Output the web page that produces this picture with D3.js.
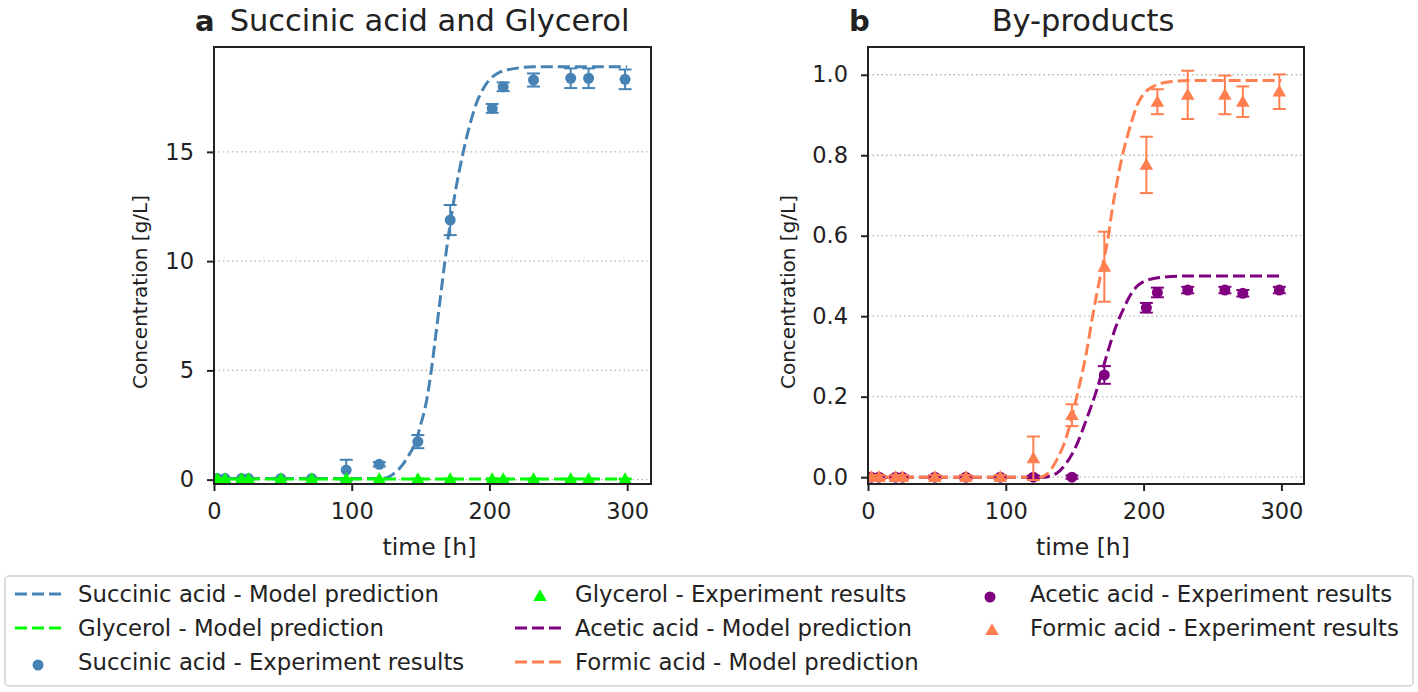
<!doctype html>
<html lang='en'>
<head>
<meta charset='UTF-8'>
<title>Succinic acid fermentation</title>
<style>
  body { margin: 0; background: #fff; }
  text { font-family: 'DejaVu Sans', sans-serif; fill: #222; }
  .tick line { stroke: #222; stroke-width: 2; }
  .tick text { font-size: 22.5px; }
  .grid line { stroke: #b5b5b5; stroke-width: 1.3; stroke-dasharray: 1.5,3; }
</style>
</head>
<body>
<script src='https://d3js.org/d3.v7.min.js'></script>
<script>
  // sampling times [h]
  const times = [2.5, 8, 20, 25, 48.5, 71, 96, 120, 148, 171.5, 202, 210, 232, 259, 272, 298.5]

  // experiment results (mean, error)
  const succinicExp = [0.05, 0.05, 0.05, 0.05, 0.05, 0.05, 0.44, 0.7, 1.74, 11.88, 16.99, 17.98, 18.29, 18.37, 18.37, 18.32]
  const succinicErr = [0.03, 0.03, 0.03, 0.03, 0.03, 0.03, 0.47, 0.1, 0.3, 0.69, 0.2, 0.2, 0.3, 0.45, 0.45, 0.45]
  const glycerolExp = [0.03, 0.03, 0.03, 0.03, 0.03, 0.03, 0.03, 0.03, 0.03, 0.03, 0.03, 0.03, 0.03, 0.03, 0.03, 0.03]
  const glycerolErr = [0.02, 0.02, 0.02, 0.02, 0.02, 0.02, 0.02, 0.02, 0.02, 0.02, 0.02, 0.02, 0.02, 0.02, 0.02, 0.02]
  const aceticExp = [0, 0, 0, 0, 0, 0, 0, 0, 0, 0.254, 0.421, 0.459, 0.465, 0.465, 0.457, 0.465]
  const aceticErr = [0.004, 0.004, 0.004, 0.004, 0.004, 0.004, 0.004, 0.004, 0.004, 0.022, 0.012, 0.012, 0.008, 0.008, 0.008, 0.008]
  const formicExp = [0, 0, 0, 0, 0, 0, 0, 0.047, 0.154, 0.523, 0.776, 0.933, 0.95, 0.95, 0.933, 0.958]
  const formicErr = [0.005, 0.005, 0.005, 0.005, 0.005, 0.005, 0.005, 0.054, 0.027, 0.087, 0.07, 0.031, 0.06, 0.048, 0.038, 0.043]

  // model predictions
  const succinicModelT = [0, 120, 126, 130, 135, 141, 147, 150, 154, 157.8, 161, 164.5, 167.7, 171, 175, 181, 186, 191, 196, 200, 206, 213, 222, 232, 260, 300]
  const succinicModel = [0.05, 0.05, 0.1, 0.25, 0.53, 1.07, 1.83, 2.5, 3.5, 5, 6.6, 8.4, 10, 11.5, 13.1, 15, 16.3, 17.3, 17.95, 18.3, 18.6, 18.75, 18.85, 18.9, 18.9, 18.9]
  const glycerolModelT = [0, 100, 200, 300]
  const glycerolModel = [0.03, 0.03, 0.03, 0.03]
  const aceticModelT = [0, 128, 133, 137, 144, 151, 158.5, 166, 173, 180, 185, 190, 195, 200, 205, 215, 230, 300]
  const aceticModel = [0, 0, 0.004, 0.01, 0.035, 0.077, 0.143, 0.217, 0.3, 0.375, 0.415, 0.45, 0.474, 0.486, 0.492, 0.497, 0.5, 0.5]
  const formicModelT = [0, 125, 130, 137, 144, 151, 158.5, 163, 166, 170.5, 174, 177, 180, 184, 187.5, 191, 195, 200, 205, 212, 220, 235, 300]
  const formicModel = [0, 0, 0.008, 0.043, 0.1, 0.193, 0.31, 0.4, 0.455, 0.53, 0.59, 0.66, 0.72, 0.79, 0.838, 0.88, 0.922, 0.952, 0.967, 0.978, 0.983, 0.986, 0.986]

  // ticks
  const xTicks = [0, 100, 200, 300]
  const leftYTicks = [0, 5, 10, 15]
  const rightYTicks = [0, 0.2, 0.4, 0.6, 0.8, 1.0]

  const colors = { succinic: '#4682b4', glycerol: '#00ff00', acetic: '#800080', formic: '#ff7f50' }

  const W = 1418, H = 692
  const plotTop = 47, plotBottom = 484

  const svg = d3.select('body').append('svg')
    .attr('width', W)
    .attr('height', H)

  const zip = (a, b) => a.map((d, i) => [d, b[i]])

  function drawPanel(p) {
    const x = d3.scaleLinear().domain(p.xDomain).range([p.left, p.right])
    const y = d3.scaleLinear().domain(p.yDomain).range([plotBottom, plotTop])
    const g = svg.append('g')

    g.append('clipPath').attr('id', p.id)
      .append('rect')
      .attr('x', p.left).attr('y', plotTop)
      .attr('width', p.right - p.left).attr('height', plotBottom - plotTop)

    // grid
    g.append('g').attr('class', 'grid')
      .selectAll('line')
      .data(p.yTicks)
      .join('line')
      .attr('x1', p.left).attr('x2', p.right)
      .attr('y1', d => y(d)).attr('y2', d => y(d))

    const plot = g.append('g').attr('clip-path', `url(#${p.id})`)

    const line = d3.line()
      .x(d => x(d[0]))
      .y(d => y(d[1]))
      .curve(d3.curveMonotoneX)

    p.models.forEach(m => {
      plot.append('path')
        .datum(zip(m.t, m.v))
        .attr('d', line)
        .attr('fill', 'none')
        .attr('stroke', m.color)
        .attr('stroke-width', 3)
        .attr('stroke-dasharray', '12,5')
    })

    p.exps.forEach(e => {
      const pts = times.map((t, i) => ({ t: t, v: e.v[i], err: e.err[i] }))
      const eg = plot.append('g')
        .attr('stroke', e.color)
        .attr('fill', e.color)
      const bars = eg.selectAll('g.err')
        .data(pts)
        .join('g')
        .attr('class', 'err')
        .attr('stroke-width', 2)
      bars.append('line')
        .attr('x1', d => x(d.t)).attr('x2', d => x(d.t))
        .attr('y1', d => y(d.v - d.err)).attr('y2', d => y(d.v + d.err))
      bars.append('line')
        .attr('x1', d => x(d.t) - 6.5).attr('x2', d => x(d.t) + 6.5)
        .attr('y1', d => y(d.v + d.err)).attr('y2', d => y(d.v + d.err))
      bars.append('line')
        .attr('x1', d => x(d.t) - 6.5).attr('x2', d => x(d.t) + 6.5)
        .attr('y1', d => y(d.v - d.err)).attr('y2', d => y(d.v - d.err))
      if (e.shape === 'circle') {
        eg.selectAll('circle')
          .data(pts)
          .join('circle')
          .attr('cx', d => x(d.t))
          .attr('cy', d => y(d.v))
          .attr('r', 5.5)
          .attr('stroke', 'none')
      } else {
        eg.selectAll('path.mk')
          .data(pts)
          .join('path')
          .attr('class', 'mk')
          .attr('d', d3.symbol(d3.symbolTriangle, 80))
          .attr('transform', d => `translate(${x(d.t)},${y(d.v) + 1})`)
          .attr('stroke', 'none')
      }
    })

    // axes
    const xa = g.append('g')
      .attr('transform', `translate(0,${plotBottom})`)
      .call(d3.axisBottom(x).tickValues(xTicks).tickSizeInner(7).tickSizeOuter(0).tickPadding(12))
    xa.select('.domain').remove()

    const ya = g.append('g')
      .attr('transform', `translate(${p.left},0)`)
      .call(d3.axisLeft(y).tickValues(p.yTicks).tickFormat(p.yFormat).tickSizeInner(7).tickSizeOuter(0).tickPadding(13))
    ya.select('.domain').remove()
    xa.attr('font-family', null).attr('font-size', null)
    ya.attr('font-family', null).attr('font-size', null)

    // frame
    g.append('rect')
      .attr('x', p.left).attr('y', plotTop)
      .attr('width', p.right - p.left).attr('height', plotBottom - plotTop)
      .attr('fill', 'none')
      .attr('stroke', '#222')
      .attr('stroke-width', 2)

    // labels
    g.append('text')
      .attr('x', (p.left + p.right) / 2 - 3)
      .attr('y', 555)
      .attr('text-anchor', 'middle')
      .style('font-size', '23.5px')
      .text('time [h]')

    g.append('text')
      .attr('transform', `translate(${p.left - p.ylabelOffset},292) rotate(-90)`)
      .attr('text-anchor', 'middle')
      .style('font-size', '20px')
      .text('Concentration [g/L]')

    g.append('text')
      .attr('x', p.left - 19)
      .attr('y', 31)
      .style('font-size', '29px')
      .style('font-weight', 'bold')
      .text(p.letter)

    g.append('text')
      .attr('x', (p.left + p.right) / 2 - 3)
      .attr('y', 31)
      .attr('text-anchor', 'middle')
      .style('font-size', '30.5px')
      .text(p.title)
  }

  drawPanel({
    id: 'clipA', left: 214, right: 651,
    xDomain: [0, 317.3], yDomain: [-0.2, 19.8],
    yTicks: leftYTicks, yFormat: d3.format('d'),
    ylabelOffset: 67, letter: 'a', title: 'Succinic acid and Glycerol',
    models: [
      { t: succinicModelT, v: succinicModel, color: colors.succinic },
      { t: glycerolModelT, v: glycerolModel, color: colors.glycerol }
    ],
    exps: [
      { v: succinicExp, err: succinicErr, color: colors.succinic, shape: 'circle' },
      { v: glycerolExp, err: glycerolErr, color: colors.glycerol, shape: 'triangle' }
    ]
  })

  drawPanel({
    id: 'clipB', left: 868, right: 1304,
    xDomain: [0, 316.4], yDomain: [-0.017, 1.069],
    yTicks: rightYTicks, yFormat: d3.format('.1f'),
    ylabelOffset: 73, letter: 'b', title: 'By-products',
    models: [
      { t: aceticModelT, v: aceticModel, color: colors.acetic },
      { t: formicModelT, v: formicModel, color: colors.formic }
    ],
    exps: [
      { v: aceticExp, err: aceticErr, color: colors.acetic, shape: 'circle' },
      { v: formicExp, err: formicErr, color: colors.formic, shape: 'triangle' }
    ]
  })

  //// Legend ////
  const legendItems = [
    { label: 'Succinic acid - Model prediction', color: colors.succinic, kind: 'line' },
    { label: 'Glycerol - Model prediction', color: colors.glycerol, kind: 'line' },
    { label: 'Succinic acid - Experiment results', color: colors.succinic, kind: 'circle' },
    { label: 'Glycerol - Experiment results', color: colors.glycerol, kind: 'triangle' },
    { label: 'Acetic acid - Model prediction', color: colors.acetic, kind: 'line' },
    { label: 'Formic acid - Model prediction', color: colors.formic, kind: 'line' },
    { label: 'Acetic acid - Experiment results', color: colors.acetic, kind: 'circle' },
    { label: 'Formic acid - Experiment results', color: colors.formic, kind: 'triangle' }
  ]
  const colX = [15, 515, 967]
  const rowY = [594, 628, 662]

  const legend = svg.append('g')
  legend.append('rect')
    .attr('x', 5).attr('y', 576)
    .attr('width', 1408).attr('height', 110)
    .attr('rx', 4)
    .attr('fill', '#fff')
    .attr('stroke', '#d0d0d0')
    .attr('stroke-width', 1.5)

  const items = legend.selectAll('g.item')
    .data(legendItems)
    .join('g')
    .attr('class', 'item')
    .attr('transform', (d, i) => `translate(${colX[Math.floor(i / 3)]},${rowY[i % 3]})`)

  items.filter(d => d.kind === 'line').append('line')
    .attr('x1', 0).attr('x2', 46)
    .attr('stroke', d => d.color)
    .attr('stroke-width', 3)
    .attr('stroke-dasharray', '12,5')
  items.filter(d => d.kind === 'circle').append('circle')
    .attr('cx', 23).attr('cy', 3).attr('r', 5.5)
    .attr('fill', d => d.color)
  items.filter(d => d.kind === 'triangle').append('path')
    .attr('d', d3.symbol(d3.symbolTriangle, 80))
    .attr('transform', 'translate(25,3)')
    .attr('fill', d => d.color)
  items.append('text')
    .attr('x', (d, i) => Math.floor(i / 3) === 1 ? 60 : 63)
    .attr('dy', '0.35em')
    .style('font-size', '22.8px')
    .text(d => d.label)
</script>
</body>
</html>
